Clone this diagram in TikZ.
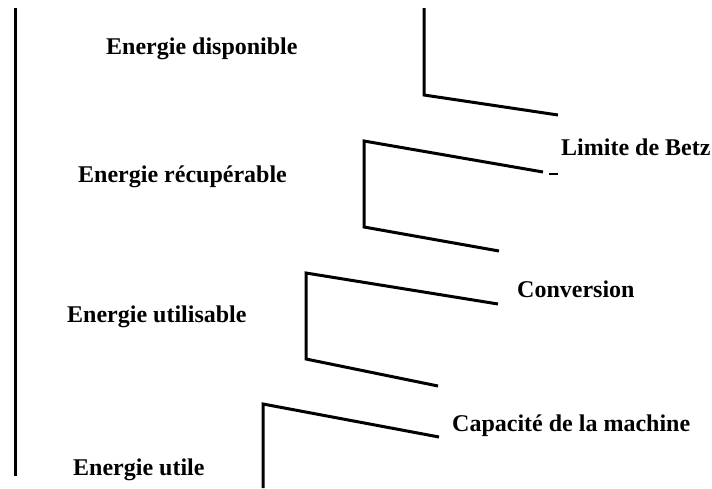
\documentclass[tikz,border=0pt]{standalone}
\usepackage{fontspec}
\setmainfont{Liberation Serif}
\begin{document}
\begin{tikzpicture}[x=1pt,y=-1pt,
  bar/.style={line width=3pt,line join=miter},
  lbl/.style={anchor=base west,inner sep=0pt,font=\fontsize{24}{28}\selectfont\bfseries}]
\useasboundingbox (0,0) rectangle (712,488);
% axis
\coordinate (axT) at (15,8);
\coordinate (axB) at (15,476);
\draw[bar] (axT) -- (axB);
% step 1
\coordinate (a1) at (424,8);
\coordinate (a2) at (424,95);
\coordinate (a3) at (558,115);
\draw[bar] (a1) -- (a2) -- (a3);
% step 2
\coordinate (b0) at (543,172);
\coordinate (b0a) at (549,173.5);
\coordinate (b0b) at (558,173.5);
\coordinate (b1) at (364,141);
\coordinate (b2) at (364,227);
\coordinate (b3) at (499,251);
\draw[bar] (b0) -- (b1) -- (b2) -- (b3);
\draw[line width=2pt] (b0a) -- (b0b);
% step 3
\coordinate (c0) at (498,304);
\coordinate (c1) at (306,273);
\coordinate (c2) at (306,359);
\coordinate (c3) at (438,386);
\draw[bar] (c0) -- (c1) -- (c2) -- (c3);
% step 4
\coordinate (d0) at (439,437);
\coordinate (d1) at (263,404);
\coordinate (d2) at (263,488);
\draw[bar] (d0) -- (d1) -- (d2);
% labels
\node[lbl] (t1) at (106,54) {Energie disponible};
\node[lbl] (t2) at (78,182) {Energie récupérable};
\node[lbl] (t3) at (67,322) {Energie utilisable};
\node[lbl] (t4) at (73,475) {Energie utile};
\node[lbl] (t5) at (561,155) {Limite de Betz};
\node[lbl] (t6) at (517,297) {Conversion};
\node[lbl] (t7) at (452,431) {Capacité de la machine};
\end{tikzpicture}
\end{document}
